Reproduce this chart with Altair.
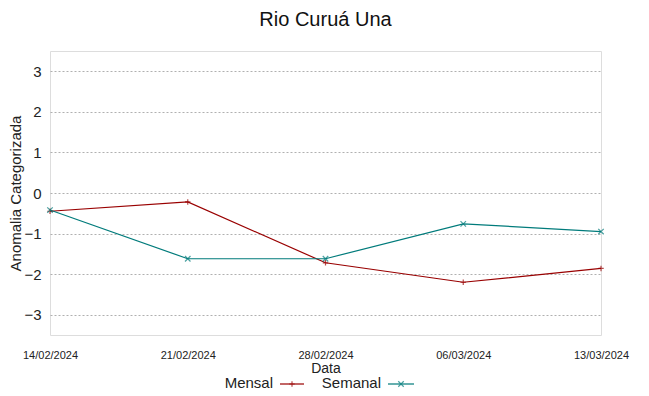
import altair as alt
import pandas as pd

dates = ["14/02/2024", "21/02/2024", "28/02/2024", "06/03/2024", "13/03/2024"]
mensal = [-0.45, -0.22, -1.72, -2.2, -1.86]
semanal = [-0.42, -1.62, -1.62, -0.76, -0.95]
series = ["Mensal", "Semanal"]
colors = ["#990000", "#007b7b"]
shapes = ["M-1,0H1M0,-1V1", "M-1,-1L1,1M-1,1L1,-1"]

rows = []
for d, m, s in zip(dates, mensal, semanal):
    rows.append({"Data": d, "valor": m, "serie": "Mensal"})
    rows.append({"Data": d, "valor": s, "serie": "Semanal"})
df = pd.DataFrame(rows)

W, H = 551, 284
FONT = "Liberation Sans"

xscale = alt.Scale(type="point", padding=0)
x = alt.X("Data:O", sort=dates, scale=xscale,
          axis=alt.Axis(title="Data", labelAngle=0, labelFontSize=11, labelPadding=14,
                        ticks=False, domain=False, grid=False, titleFontSize=14,
                        titleFontWeight="normal", titlePadding=1, labelColor="#222",
                        titleColor="#222", labelFont=FONT, titleFont=FONT))
y = alt.Y("valor:Q", scale=alt.Scale(domain=[-3.5, 3.5], nice=False, zero=False),
          axis=alt.Axis(title="Anomalia Categorizada", values=[-3, -2, -1, 0, 1, 2, 3],
                        labelFontSize=15, labelPadding=9, ticks=False, domain=False,
                        grid=True, gridDash=[2, 2], gridColor="#b0b0b0",
                        titleFontSize=15, titleFontWeight="normal", titlePadding=0,
                        labelColor="#222", titleColor="#222", labelFont=FONT, titleFont=FONT))
color = alt.Color("serie:N", scale=alt.Scale(domain=series, range=colors), legend=None)
shape = alt.Shape("serie:N", scale=alt.Scale(domain=series, range=shapes), legend=None)

lines = alt.Chart(df).mark_line(strokeWidth=1.2).encode(x=x, y=y, color=color)
pts = alt.Chart(df).mark_point(filled=False, size=30, strokeWidth=1.2).encode(
    x=x, y=y, color=color, shape=shape)
plot = alt.layer(lines, pts)

# manual legend below the plot (gnuplot style: label then sample)
leg = pd.DataFrame({"serie": series, "tx": [223, 331], "lx": [230, 338], "lx2": [254, 364],
                    "px": [242, 351]})
ly = H + 48
leg_text = alt.Chart(leg).mark_text(align="right", baseline="middle", fontSize=15,
                                    font=FONT, color="#222").encode(
    x=alt.X("tx:Q", scale=None, axis=None), y=alt.value(ly), text="serie:N")
leg_rule = alt.Chart(leg).mark_rule(strokeWidth=1.2).encode(
    x=alt.X("lx:Q", scale=None, axis=None), x2="lx2:Q", y=alt.value(ly + 1),
    color=alt.Color("serie:N", scale=alt.Scale(domain=series, range=colors), legend=None))
leg_pt = alt.Chart(leg).mark_point(filled=False, size=30, strokeWidth=1.2).encode(
    x=alt.X("px:Q", scale=None, axis=None), y=alt.value(ly + 1),
    color=alt.Color("serie:N", scale=alt.Scale(domain=series, range=colors), legend=None),
    shape=alt.Shape("serie:N", scale=alt.Scale(domain=series, range=shapes), legend=None))
legend = alt.layer(leg_text, leg_rule, leg_pt)

chart = alt.layer(plot, legend).resolve_scale(
    x="independent"
).properties(
    width=W, height=H,
    title=alt.Title("Rio Curuá Una", fontSize=20, fontWeight="normal", font=FONT,
                    color="#111", offset=21, anchor="middle"),
    autosize=alt.AutoSizeParams(type="none"),
    padding={"left": 42, "top": 43, "right": 40, "bottom": 53},
).configure_view(stroke="#444", strokeWidth=1.2).configure(background="white")

chart.save("out.html", embed_options={"renderer": "svg", "actions": False})
